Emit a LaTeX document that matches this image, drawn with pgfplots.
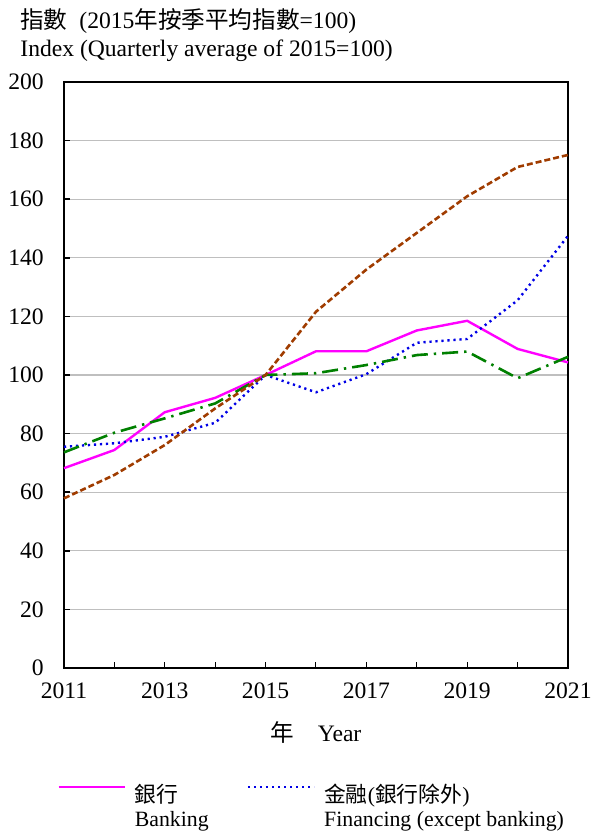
\documentclass[border=0pt]{standalone}
\usepackage{fontspec}
\setmainfont{Liberation Serif}
\newfontfamily\cjk{Noto Sans CJK TC}
\usepackage{pgfplots}
\pgfplotsset{compat=1.18}

\definecolor{bankc}{RGB}{255,0,255}
\definecolor{finc}{RGB}{0,0,230}
\definecolor{grnc}{RGB}{0,128,0}
\definecolor{brnc}{RGB}{160,60,0}

\begin{document}
\fontsize{11.8pt}{13pt}\selectfont
\begin{tikzpicture}
\begin{axis}[
    name=ax,
    scale only axis,
    width=252pt, height=293pt,
    xmin=2011, xmax=2021,
    ymin=0, ymax=200,
    xtick={2011,2012,...,2021},
    xticklabels={2011,,2013,,2015,,2017,,2019,,2021},
    ytick={0,20,...,200},
    /pgf/number format/assume math mode=true,
    /pgf/number format/1000 sep={},
    tick label style={font=\fontsize{11.8pt}{13pt}\selectfont},
    xticklabel style={yshift=-3.3pt},
    yticklabel style={xshift=-6pt},
    tick align=inside,
    xtick pos=bottom, ytick pos=left,
    major tick length=3pt,
    xtick style={black, line width=0.5pt},
    ytick style={black, line width=0.8pt},
    ymajorgrids,
    grid style={gray!50, line width=0.6pt},
    axis line style={black, line width=1.1pt},
    clip=false,
    xlabel={{\cjk 年}\quad Year},
    xlabel style={yshift=-3.2pt},
    legend columns=2,
    legend cell align=left,
    legend style={draw=none, fill=none, at={(0,0)}, anchor=north west,
                  xshift=-3.5pt, yshift=-58pt, inner sep=0pt,
                  nodes={inner sep=0pt},
                  font=\fontsize{10.9pt}{12pt}\selectfont,
                  /tikz/every odd column/.append style={column sep=4.5pt},
                  /tikz/every even column/.append style={column sep=1pt}},
    legend image code/.code={%
      \draw[#1] (0pt,4.2pt) -- (33pt,4.2pt);},
]
\addplot[bankc, line width=1.2pt] coordinates {
  (2011,68.2) (2012,74.4) (2013,87.3) (2014,92.2) (2015,100)
  (2016,108.1) (2017,108.1) (2018,115.2) (2019,118.5) (2020,108.9) (2021,104.3)
};
\addplot[finc, line width=1.2pt, dash pattern=on 1.1pt off 1.9pt] coordinates {
  (2011,75.5) (2012,76.7) (2013,78.9) (2014,83.7) (2015,100)
  (2016,94.1) (2017,100.3) (2018,111.0) (2019,112.3) (2020,125.5) (2021,147.5)
};
\addplot[grnc, line width=1.3pt, dash pattern=on 8pt off 3pt on 1.2pt off 3pt] coordinates {
  (2011,73.6) (2012,80.3) (2013,85.2) (2014,90.3) (2015,100)
  (2016,100.6) (2017,103.4) (2018,106.8) (2019,108.0) (2020,98.9) (2021,106.2)
};
\addplot[brnc, line width=1.3pt, dash pattern=on 3pt off 1.5pt] coordinates {
  (2011,57.9) (2012,65.9) (2013,76.1) (2014,88.6) (2015,100)
  (2016,121.6) (2017,136.0) (2018,148.5) (2019,161.0) (2020,171.0) (2021,175.1)
};
\legend{{\begin{tabular}[t]{@{}p{55pt}@{}}{\cjk 銀行}\\Banking\end{tabular}},
        {\begin{tabular}[t]{@{}l@{}}{\cjk 金融}({\cjk 銀行除外})\\Financing (except banking)\end{tabular}}}
\node[anchor=base west, inner sep=0pt] at ([xshift=-22pt,yshift=12.5pt]rel axis cs:0,1)
  {Index (Quarterly average of 2015=100)};
\node[anchor=base west, inner sep=0pt] at ([xshift=-22pt,yshift=26.8pt]rel axis cs:0,1)
  {{\cjk 指數}\ \ (2015{\cjk 年按季平均指數}=100)};
\end{axis}
\pgfresetboundingbox
\path ([xshift=-32pt,yshift=-83pt]ax.south west) rectangle ([xshift=12pt,yshift=41pt]ax.north east);
\end{tikzpicture}
\end{document}
